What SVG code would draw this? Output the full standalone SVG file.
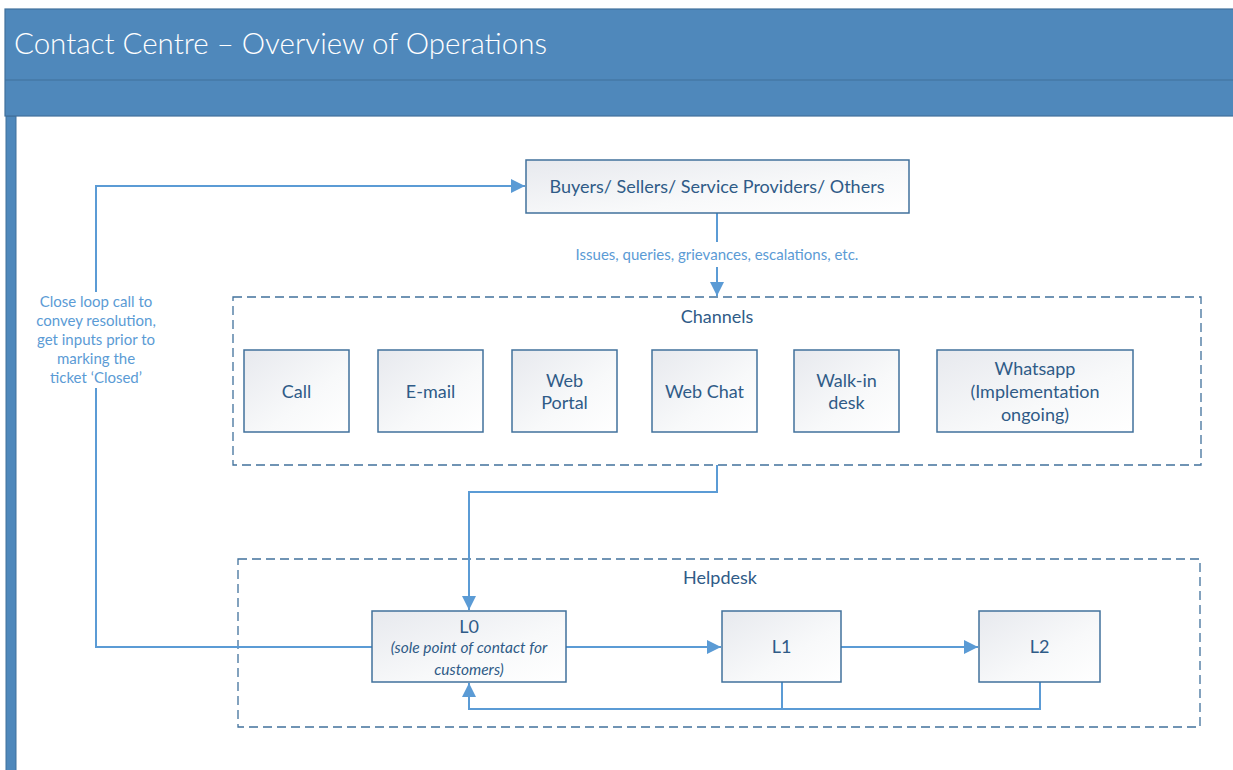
<svg xmlns="http://www.w3.org/2000/svg" width="1233" height="770" viewBox="0 0 1233 770">
  <defs>
    <linearGradient id="boxFill" x1="0" y1="0" x2="1" y2="1">
      <stop offset="0" stop-color="#E7E9EE"/>
      <stop offset="0.6" stop-color="#F8F9FA"/>
      <stop offset="1" stop-color="#FFFFFF"/>
    </linearGradient>
    <marker id="arrow" viewBox="0 0 10 10" refX="10" refY="5" markerWidth="14" markerHeight="14" markerUnits="userSpaceOnUse" orient="auto">
      <path d="M0,0 L10,5 L0,10 Z" fill="#5B9BD5"/>
    </marker>
  </defs>
  <style>
    .node { fill: url(#boxFill); stroke: #41719C; stroke-width: 1.5; }
    .group { fill: none; stroke: #41719C; stroke-width: 1.3; stroke-dasharray: 9 5; }
    .t { font-family: Lato, "Open Sans", "Liberation Sans", sans-serif; fill: #2F5B87; text-anchor: middle; font-size: 18px; }
    .it { font-size: 15.5px; font-style: italic; }
    .lbl { font-family: Lato, "Open Sans", "Liberation Sans", sans-serif; fill: #5B9BD5; text-anchor: middle; font-size: 15px; }
    .conn { fill: none; stroke: #5B9BD5; stroke-width: 2; }
  </style>

  <rect width="1233" height="770" fill="#FFFFFF"/>

  <!-- page header and left rail -->
  <g id="header">
    <rect x="6" y="116" width="10" height="660" fill="#4F88BB" stroke="#41719C" stroke-width="1"/>
    <rect x="5" y="9" width="1240" height="107" fill="#4F88BB" stroke="#41719C" stroke-width="1.2"/>
    <line x1="5" y1="80" x2="1233" y2="80" stroke="#41719C" stroke-width="1.2"/>
    <text x="14" y="54" font-family="Lato, 'Open Sans', 'Liberation Sans', sans-serif" font-size="29.5" font-weight="300" fill="#FFFFFF">Contact Centre – Overview of Operations</text>
  </g>

  <!-- containers -->
  <g id="channels">
    <rect class="group" x="233" y="297" width="968" height="168"/>
    <text class="t" x="717" y="323">Channels</text>
  </g>
  <g id="helpdesk">
    <rect class="group" x="238" y="559" width="962" height="168"/>
    <text class="t" x="720" y="584">Helpdesk</text>
  </g>

  <!-- connectors -->
  <g id="connectors">
    <path class="conn" d="M717,213 V242"/>
    <path class="conn" d="M717,267 V296" marker-end="url(#arrow)"/>
    <text class="lbl" x="717" y="260">Issues, queries, grievances, escalations, etc.</text>
    <path class="conn" d="M717,465 V492 H469 V610" marker-end="url(#arrow)"/>
    <path class="conn" d="M566,647 H721" marker-end="url(#arrow)"/>
    <path class="conn" d="M841,647 H978" marker-end="url(#arrow)"/>
    <path class="conn" d="M1040,682 V709 H469 V683" marker-end="url(#arrow)"/>
    <path class="conn" d="M782,682 V709"/>
    <path class="conn" d="M372,647 H96 V388"/>
    <path class="conn" d="M96,292 V186 H525" marker-end="url(#arrow)"/>
    <text class="lbl" x="96" y="307">Close loop call to</text>
    <text class="lbl" x="96" y="326">convey resolution,</text>
    <text class="lbl" x="96" y="345">get inputs prior to</text>
    <text class="lbl" x="96" y="364">marking the</text>
    <text class="lbl" x="96" y="383">ticket ‘Closed’</text>
  </g>

  <!-- nodes -->
  <g id="stakeholders">
    <rect class="node" x="526" y="160" width="383" height="53"/>
    <text class="t" x="717" y="192.5">Buyers/ Sellers/ Service Providers/ Others</text>
  </g>
  <g id="call">
    <rect class="node" x="244" y="350" width="105" height="82"/>
    <text class="t" x="296.5" y="397.5">Call</text>
  </g>
  <g id="email">
    <rect class="node" x="378" y="350" width="105" height="82"/>
    <text class="t" x="430.5" y="397.5">E-mail</text>
  </g>
  <g id="web-portal">
    <rect class="node" x="512" y="350" width="105" height="82"/>
    <text class="t" x="564.5" y="386.5">Web</text>
    <text class="t" x="564.5" y="408.5">Portal</text>
  </g>
  <g id="web-chat">
    <rect class="node" x="652" y="350" width="105" height="82"/>
    <text class="t" x="704.5" y="397.5">Web Chat</text>
  </g>
  <g id="walk-in">
    <rect class="node" x="794" y="350" width="105" height="82"/>
    <text class="t" x="846.5" y="386.5">Walk-in</text>
    <text class="t" x="846.5" y="408.5">desk</text>
  </g>
  <g id="whatsapp">
    <rect class="node" x="937" y="350" width="196" height="82"/>
    <text class="t" x="1035" y="374.5">Whatsapp</text>
    <text class="t" x="1035" y="397.5">(Implementation</text>
    <text class="t" x="1035" y="420.5">ongoing)</text>
  </g>
  <g id="l0">
    <rect class="node" x="372" y="611" width="194" height="71"/>
    <text class="t" x="469" y="632.5">L0</text>
    <text class="t it" x="469" y="652.5">(sole point of contact for</text>
    <text class="t it" x="469" y="675">customers)</text>
  </g>
  <g id="l1">
    <rect class="node" x="722" y="611" width="119" height="71"/>
    <text class="t" x="781.5" y="653">L1</text>
  </g>
  <g id="l2">
    <rect class="node" x="979" y="611" width="121" height="71"/>
    <text class="t" x="1039.5" y="653">L2</text>
  </g>
</svg>
